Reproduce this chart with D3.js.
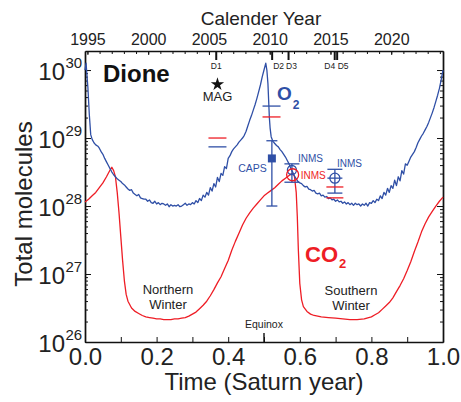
<!DOCTYPE html>
<html>
<head>
<meta charset="utf-8">
<script src="https://cdn.jsdelivr.net/npm/d3@7"></script>
<style>
  body { margin: 0; background: #fff; }
  svg { display: block; }
  text { font-family: "Liberation Sans", Arial, Helvetica, sans-serif; fill: #222; }
</style>
</head>
<body>
<svg id="chart" width="461" height="402"></svg>
<script>
// Modelled exospheric content over one Saturn year: [phase, log10(total molecules)]
const o2Curve = [
  [0.000,30.00],[0.003,30.10],[0.008,29.75],[0.012,29.35],[0.016,29.05],[0.020,28.98],[0.025,28.93],
  [0.030,28.90],[0.036,28.88],[0.040,28.85],[0.045,28.80],[0.050,28.76],[0.055,28.70],[0.060,28.65],
  [0.065,28.60],[0.070,28.55],[0.075,28.50],[0.080,28.46],[0.085,28.43],[0.090,28.40],[0.095,28.38],
  [0.100,28.36],[0.105,28.33],[0.110,28.31],[0.115,28.28],[0.120,28.25],[0.125,28.23],[0.130,28.24],
  [0.135,28.19],[0.140,28.17],[0.145,28.15],[0.150,28.17],[0.155,28.12],[0.160,28.11],[0.165,28.10],
  [0.170,28.10],[0.175,28.07],[0.180,28.09],[0.185,28.05],[0.190,28.04],[0.195,28.07],[0.200,28.03],
  [0.205,28.05],[0.210,28.02],[0.215,28.04],[0.220,28.03],[0.225,28.01],[0.230,28.03],[0.235,27.99],
  [0.240,28.02],[0.245,28.00],[0.250,28.01],[0.255,28.00],[0.260,28.02],[0.265,27.99],[0.270,28.00],
  [0.275,28.02],[0.280,28.04],[0.285,28.01],[0.290,28.03],[0.295,28.02],[0.300,28.05],[0.305,28.03],
  [0.310,28.08],[0.315,28.05],[0.320,28.11],[0.325,28.08],[0.330,28.16],[0.335,28.13],[0.340,28.20],
  [0.345,28.16],[0.350,28.27],[0.355,28.22],[0.360,28.33],[0.365,28.28],[0.370,28.42],[0.375,28.36],
  [0.380,28.48],[0.385,28.45],[0.390,28.58],[0.395,28.55],[0.400,28.70],[0.405,28.74],[0.410,28.80],
  [0.415,28.84],[0.420,28.87],[0.425,28.90],[0.430,28.94],[0.435,28.97],[0.440,29.00],[0.445,29.04],
  [0.450,29.10],[0.455,29.18],[0.460,29.26],[0.465,29.33],[0.470,29.41],[0.475,29.49],[0.480,29.58],
  [0.485,29.68],[0.490,29.78],[0.495,29.90],[0.500,30.00],[0.505,30.10],[0.508,30.00],[0.511,29.80],
  [0.513,29.55],[0.515,29.30],[0.517,29.15],[0.520,29.02],[0.525,28.95],[0.530,28.92],[0.535,28.89],
  [0.540,28.87],[0.545,28.83],[0.550,28.80],[0.555,28.76],[0.560,28.72],[0.565,28.67],[0.570,28.62],
  [0.575,28.55],[0.580,28.50],[0.585,28.44],[0.590,28.40],[0.595,28.36],[0.600,28.34],[0.605,28.33],
  [0.610,28.30],[0.615,28.28],[0.620,28.29],[0.625,28.25],[0.630,28.24],[0.635,28.22],[0.640,28.23],
  [0.645,28.19],[0.650,28.18],[0.655,28.19],[0.660,28.15],[0.665,28.16],[0.670,28.13],[0.675,28.14],
  [0.680,28.11],[0.685,28.12],[0.690,28.09],[0.695,28.10],[0.700,28.07],[0.705,28.09],[0.710,28.06],
  [0.715,28.07],[0.720,28.04],[0.725,28.06],[0.730,28.03],[0.735,28.05],[0.740,28.02],[0.745,28.04],
  [0.750,28.01],[0.755,28.04],[0.760,28.02],[0.765,28.03],[0.770,28.00],[0.775,28.03],[0.780,28.01],
  [0.785,28.04],[0.790,28.00],[0.795,28.05],[0.800,28.04],[0.805,28.08],[0.810,28.05],[0.815,28.10],
  [0.820,28.08],[0.825,28.15],[0.830,28.11],[0.835,28.20],[0.840,28.16],[0.845,28.26],[0.850,28.20],
  [0.855,28.30],[0.860,28.26],[0.865,28.38],[0.870,28.30],[0.875,28.43],[0.880,28.37],[0.885,28.52],
  [0.890,28.47],[0.895,28.62],[0.900,28.60],[0.905,28.66],[0.910,28.72],[0.915,28.76],[0.920,28.80],
  [0.925,28.86],[0.930,28.93],[0.935,28.98],[0.940,29.03],[0.945,29.07],[0.950,29.12],[0.955,29.17],
  [0.960,29.23],[0.965,29.30],[0.970,29.37],[0.975,29.45],[0.980,29.54],[0.985,29.63],[0.990,29.73],
  [0.995,29.86],[1.000,30.00]
];

const co2Curve = [
  [0.000,28.06],[0.010,28.10],[0.020,28.15],[0.030,28.20],[0.040,28.27],[0.050,28.34],[0.060,28.43],
  [0.070,28.53],[0.075,28.57],[0.080,28.52],[0.085,28.43],[0.090,28.20],[0.095,27.90],[0.100,27.55],
  [0.105,27.20],[0.110,26.90],[0.115,26.70],[0.120,26.60],[0.130,26.50],[0.140,26.45],[0.150,26.42],
  [0.160,26.39],[0.170,26.37],[0.180,26.36],[0.190,26.35],[0.200,26.34],[0.210,26.34],[0.220,26.33],
  [0.230,26.33],[0.240,26.33],[0.250,26.34],[0.260,26.34],[0.270,26.35],[0.280,26.36],[0.290,26.38],
  [0.300,26.41],[0.310,26.44],[0.320,26.49],[0.330,26.54],[0.340,26.60],[0.350,26.68],[0.360,26.77],
  [0.370,26.87],[0.380,26.96],[0.390,27.08],[0.400,27.20],[0.410,27.35],[0.420,27.48],[0.430,27.60],
  [0.440,27.72],[0.450,27.82],[0.460,27.90],[0.470,27.97],[0.480,28.03],[0.490,28.09],[0.500,28.15],
  [0.510,28.19],[0.520,28.23],[0.530,28.27],[0.540,28.32],[0.550,28.37],[0.560,28.41],[0.570,28.45],
  [0.580,28.48],[0.585,28.44],[0.590,28.20],[0.593,27.85],[0.596,27.35],[0.600,26.86],[0.605,26.62],
  [0.610,26.52],[0.620,26.45],[0.630,26.41],[0.640,26.39],[0.660,26.37],[0.680,26.36],[0.700,26.35],
  [0.720,26.34],[0.740,26.33],[0.760,26.33],[0.780,26.34],[0.800,26.37],[0.810,26.40],[0.820,26.43],
  [0.830,26.48],[0.840,26.53],[0.850,26.58],[0.860,26.65],[0.870,26.74],[0.880,26.83],[0.890,26.93],
  [0.900,27.05],[0.910,27.18],[0.920,27.33],[0.930,27.47],[0.940,27.62],[0.950,27.74],[0.960,27.84],
  [0.970,27.92],[0.980,28.00],[0.990,28.07],[1.000,28.13]
];

// Cassini flybys of Dione (calendar year)
const flybyNames = ["D1", "D2", "D3", "D4", "D5"];
const flybyYears = [2005.6, 2010.2, 2011.55, 2015.35, 2015.55];

// Tick labels
const phaseTicks = [0, 0.2, 0.4, 0.6, 0.8, 1.0];
const yearTicks = [1995, 2000, 2005, 2010, 2015, 2020];
const decadeExps = [26, 27, 28, 29, 30];

// Measurements and model estimates: phase and log10(total molecules)
const magPoint = { t: 0.37, v: 29.79 };
const modelBars = [
  { t: 0.37,  gas: "CO2", v: 29.00 },
  { t: 0.37,  gas: "O2",  v: 28.87 },
  { t: 0.521, gas: "O2",  v: 29.47 },
  { t: 0.521, gas: "CO2", v: 29.31 }
];
const capsPoint = { t: 0.522, v: 28.70, lo: 28.00, hi: 28.96 };
const inmsO2 = [
  { t: 0.578, v: 28.53, lo: 28.35, hi: 28.62 },
  { t: 0.698, v: 28.41, lo: 28.19, hi: 28.54 }
];
const inmsCO2Point = { t: 0.580, v: 28.46 };
const inmsCO2Bars = [
  { t: 0.698, v: 28.28 },
  { t: 0.698, v: 28.12 }
];

const BLUE = "#2f4fa6";
const RED = "#ee1d25";

const svg = d3.select("#chart");
const plotLeft = 85, plotRight = 443, plotTop = 51, plotBottom = 342;

const x = d3.scaleLinear().domain([0, 1]).range([plotLeft, plotRight]);
const y = d3.scaleLog().domain([1e26, Math.pow(10, 30.28)]).range([plotBottom, plotTop]);
const yearStart = 1994.8, saturnYear = 29.46;
const xYear = d3.scaleLinear().domain([yearStart, yearStart + saturnYear]).range([plotLeft, plotRight]);
const pow = e => Math.pow(10, e);

// ---- axes ----
const axisStyle = g => {
  g.selectAll("path.domain").attr("stroke", "#111").attr("stroke-width", 1.4);
  g.selectAll(".tick line").attr("stroke", "#111").attr("stroke-width", 1);
};
const labelStyle = size => g => g.selectAll("text").attr("font-size", size).attr("fill", "#222")
  .attr("font-family", "Liberation Sans, Arial, sans-serif");

// bottom: phase
svg.append("g").attr("transform", `translate(0,${plotBottom})`)
  .call(d3.axisBottom(x).tickValues(d3.range(0, 1.001, 0.1)).tickSize(-5).tickSizeOuter(0).tickFormat(""))
  .call(axisStyle);
svg.append("g").attr("transform", `translate(0,${plotBottom})`)
  .call(d3.axisBottom(x).tickValues(phaseTicks).tickSize(0).tickPadding(6).tickFormat(d3.format(".1f")))
  .call(g => g.select("path.domain").remove())
  .call(labelStyle(24));
// equinox marker
svg.append("line").attr("x1", x(0.5)).attr("x2", x(0.5)).attr("y1", plotBottom).attr("y2", plotBottom - 9)
  .attr("stroke", "#111").attr("stroke-width", 1.4);

// top: calendar year
svg.append("g").attr("transform", `translate(0,${plotTop})`)
  .call(d3.axisTop(xYear).tickValues(d3.range(1995, 2025)).tickSize(-3).tickSizeOuter(0).tickFormat(""))
  .call(axisStyle);
svg.append("g").attr("transform", `translate(0,${plotTop})`)
  .call(d3.axisTop(xYear).tickValues(yearTicks).tickSize(-4).tickPadding(6).tickFormat(d3.format("d")))
  .call(g => g.select("path.domain").remove())
  .call(axisStyle)
  .call(labelStyle(16));

// left and right: log scale with decade and minor ticks
const minorVals = [];
for (let e = 26; e <= 30; e++) for (let k = 2; k <= 9; k++) {
  const v = k * pow(e);
  if (v < y.domain()[1]) minorVals.push(v);
}
const majorVals = decadeExps.map(pow);
[[d3.axisLeft, plotLeft], [d3.axisRight, plotRight]].forEach(([axisFn, pos]) => {
  svg.append("g").attr("transform", `translate(${pos},0)`)
    .call(axisFn(y).tickValues(minorVals).tickSize(-3).tickSizeOuter(0).tickFormat(""))
    .call(axisStyle);
  svg.append("g").attr("transform", `translate(${pos},0)`)
    .call(axisFn(y).tickValues(majorVals).tickSize(-6).tickSizeOuter(0).tickFormat(""))
    .call(axisStyle);
});

// decade labels 10^n
const yLabels = svg.append("g");
decadeExps.forEach(e => {
  const yy = y(pow(e));
  yLabels.append("text").attr("x", 65).attr("y", yy + 10).attr("text-anchor", "end")
    .attr("font-size", 24).text("10");
  yLabels.append("text").attr("x", 65.5).attr("y", yy - 2).attr("font-size", 15).text(e);
});

// axis titles
svg.append("text").attr("x", 261).attr("y", 25).attr("text-anchor", "middle")
  .attr("font-size", 19).text("Calender Year");
svg.append("text").attr("x", 264).attr("y", 390).attr("text-anchor", "middle")
  .attr("font-size", 24).text("Time (Saturn year)");
svg.append("text").attr("transform", `translate(32,${(118 + 290) / 2}) rotate(-90)`)
  .attr("text-anchor", "middle").attr("font-size", 24).text("Total molecules");

// flyby ticks and names
flybyYears.forEach(yr => {
  svg.append("line").attr("x1", xYear(yr)).attr("x2", xYear(yr)).attr("y1", plotTop).attr("y2", plotTop + 9)
    .attr("stroke", "#111").attr("stroke-width", 2);
});
const flyLabelX = [xYear(flybyYears[0]), xYear(flybyYears[1]) + 6.5, xYear(flybyYears[2]) + 3,
  xYear(flybyYears[3]) - 5, xYear(flybyYears[4]) + 6];
flybyNames.forEach((n, i) => {
  svg.append("text").attr("x", flyLabelX[i]).attr("y", 69).attr("text-anchor", "middle")
    .attr("font-size", 8.5).text(n);
});

// ---- model curves ----
const line = d3.line().x(d => x(d[0])).y(d => y(pow(d[1])));
svg.append("path").datum(co2Curve).attr("d", line).attr("fill", "none")
  .attr("stroke", RED).attr("stroke-width", 1.3).attr("stroke-linejoin", "round");
svg.append("path").datum(o2Curve).attr("d", line).attr("fill", "none")
  .attr("stroke", BLUE).attr("stroke-width", 1.3).attr("stroke-linejoin", "round");

// ---- measurements ----
const marks = svg.append("g");
const hbar = (t, v, half, color) => marks.append("line")
  .attr("x1", x(t) - half).attr("x2", x(t) + half).attr("y1", y(pow(v))).attr("y2", y(pow(v)))
  .attr("stroke", color).attr("stroke-width", 1.3);
const vbar = (t, lo, hi, color) => marks.append("line")
  .attr("x1", x(t)).attr("x2", x(t)).attr("y1", y(pow(lo))).attr("y2", y(pow(hi)))
  .attr("stroke", color).attr("stroke-width", 1.3);

// model estimate bars
modelBars.forEach(d => hbar(d.t, d.v, 9, d.gas === "O2" ? BLUE : RED));

// MAG
marks.append("path").attr("d", d3.symbol(d3.symbolStar).size(55)())
  .attr("transform", `translate(${x(magPoint.t)},${y(pow(magPoint.v))})`).attr("fill", "#111");
svg.append("text").attr("x", x(magPoint.t)).attr("y", y(pow(magPoint.v)) + 17).attr("text-anchor", "middle")
  .attr("font-size", 13).text("MAG");

// CAPS
vbar(capsPoint.t, capsPoint.lo, capsPoint.hi, BLUE);
hbar(capsPoint.t, capsPoint.lo, 5.5, BLUE);
hbar(capsPoint.t, capsPoint.hi, 5.5, BLUE);
marks.append("rect").attr("x", x(capsPoint.t) - 4).attr("y", y(pow(capsPoint.v)) - 4)
  .attr("width", 8).attr("height", 8).attr("fill", BLUE);
svg.append("text").attr("x", x(capsPoint.t) - 5).attr("y", y(pow(capsPoint.v)) + 14)
  .attr("text-anchor", "end").attr("font-size", 10.5).style("fill", BLUE).text("CAPS");

// INMS O2
inmsO2.forEach((d, i) => {
  vbar(d.t, d.lo, d.hi, BLUE);
  hbar(d.t, d.lo, 7.5, BLUE);
  hbar(d.t, d.hi, 7.5, BLUE);
  marks.append("circle").attr("cx", x(d.t)).attr("cy", y(pow(d.v))).attr("r", i === 0 ? 4.5 : 5)
    .attr("fill", "none").attr("stroke", BLUE).attr("stroke-width", 1.3);
  if (i === 1) hbar(d.t, d.v, 7.5, BLUE);
});
// INMS CO2
marks.append("circle").attr("cx", x(inmsCO2Point.t)).attr("cy", y(pow(inmsCO2Point.v))).attr("r", 6)
  .attr("fill", "none").attr("stroke", RED).attr("stroke-width", 1.3);
inmsCO2Bars.forEach(d => hbar(d.t, d.v, 8.5, RED));

svg.append("text").attr("x", x(inmsO2[0].t) + 6).attr("y", y(pow(inmsO2[0].hi)) - 2)
  .attr("font-size", 10).style("fill", BLUE).text("INMS");
svg.append("text").attr("x", x(inmsCO2Point.t) + 8).attr("y", y(pow(inmsCO2Point.v)) + 4)
  .attr("font-size", 10).style("fill", RED).text("INMS");
svg.append("text").attr("x", x(inmsO2[1].t) + 2).attr("y", y(pow(inmsO2[1].hi)) - 2)
  .attr("font-size", 10).style("fill", BLUE).text("INMS");

// ---- labels ----
svg.append("text").attr("x", 103).attr("y", 82).attr("font-size", 24).attr("font-weight", "bold")
  .style("fill", "#111").text("Dione");

const o2Label = svg.append("text").attr("x", 277).attr("y", 100).attr("font-weight", "bold").style("fill", BLUE);
o2Label.append("tspan").attr("font-size", 19).text("O");
o2Label.append("tspan").attr("font-size", 12).attr("dy", 9).attr("dx", 1).text("2");

const co2Label = svg.append("text").attr("x", 305).attr("y", 262).attr("font-weight", "bold").style("fill", RED);
co2Label.append("tspan").attr("font-size", 22).text("CO");
co2Label.append("tspan").attr("font-size", 13).attr("dy", 6).attr("dx", 1).text("2");

const seasonLabel = (cx, y1, words) => {
  words.forEach((w, i) => svg.append("text").attr("x", cx).attr("y", y1 + i * 14.5)
    .attr("text-anchor", "middle").attr("font-size", 13).text(w));
};
seasonLabel(168, 294, ["Northern", "Winter"]);
seasonLabel(351, 295, ["Southern", "Winter"]);

svg.append("text").attr("x", x(0.5)).attr("y", 328).attr("text-anchor", "middle")
  .attr("font-size", 10.5).text("Equinox");
</script>
</body>
</html>
